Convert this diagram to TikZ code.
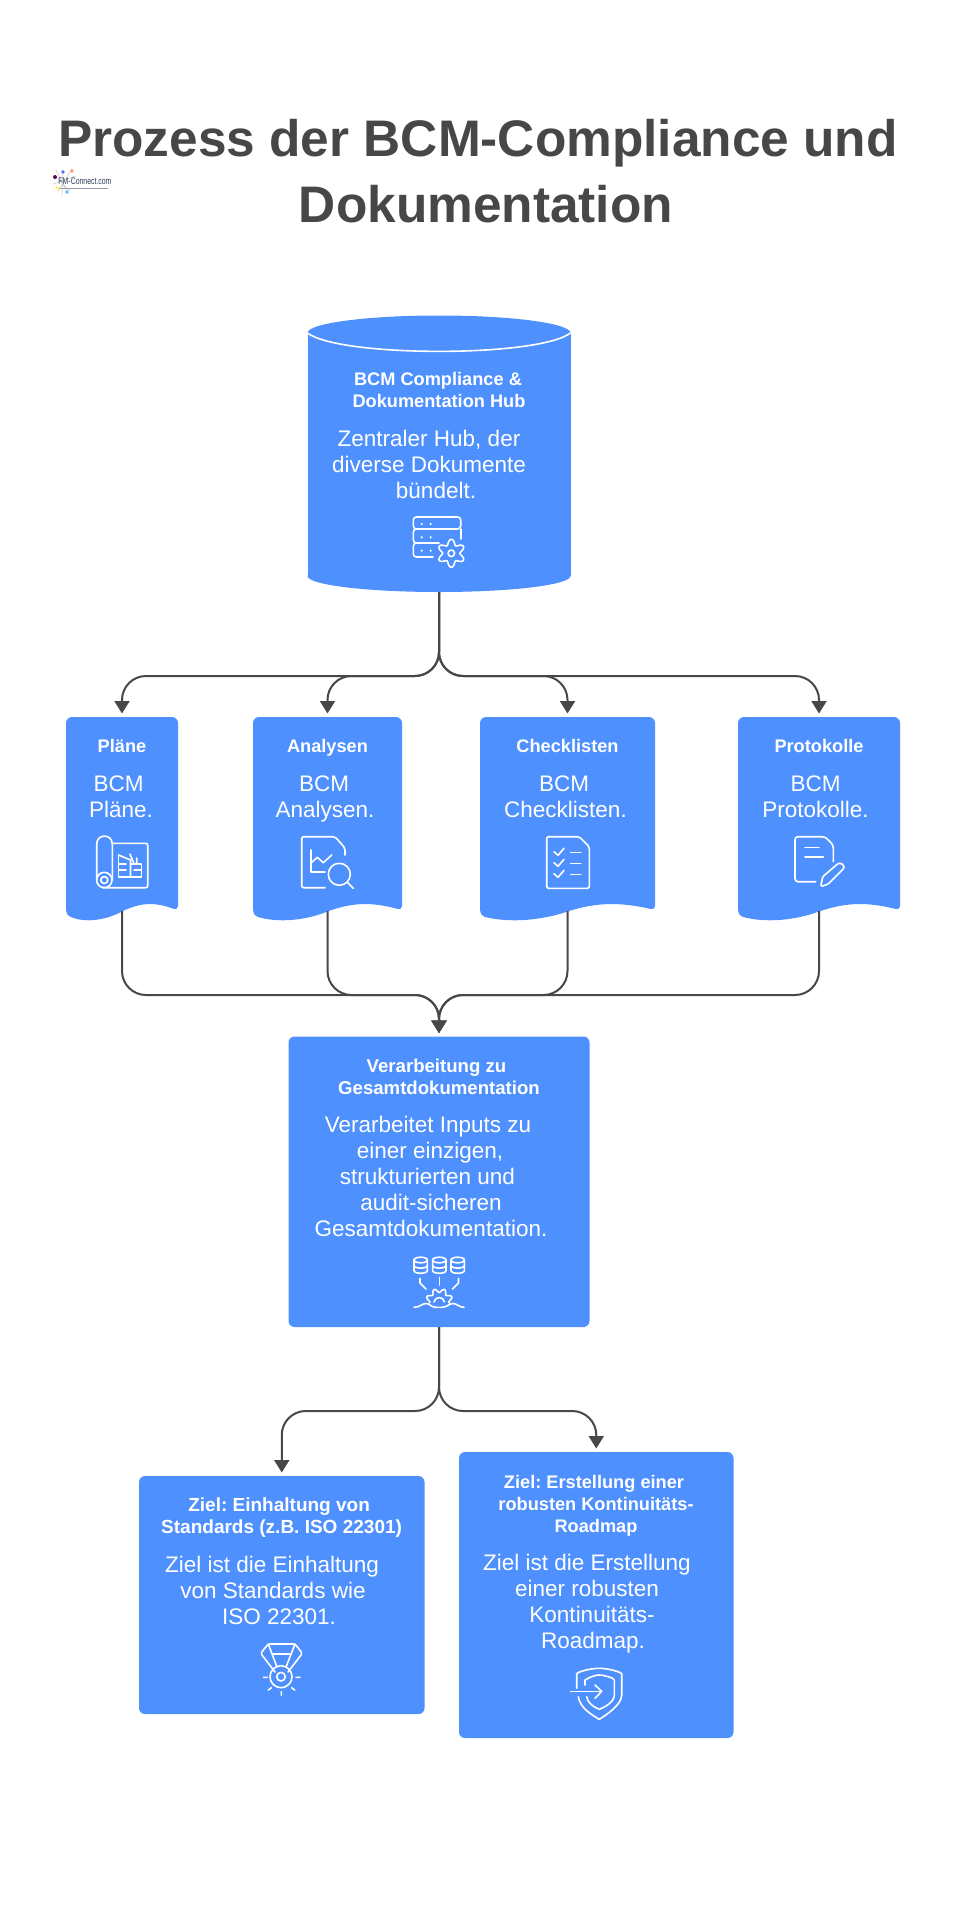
\documentclass[tikz,border=0pt]{standalone}
\usepackage{fontspec}
\setmainfont{Liberation Sans}
\newfontfamily\logofont[FakeStretch=0.72]{Liberation Sans}
\usetikzlibrary{arrows.meta}
\frenchspacing
\definecolor{boxblue}{HTML}{4F90FF}
\definecolor{inkgrey}{HTML}{474747}
\definecolor{logonavy}{HTML}{2E3C5C}
\newcommand{\docshape}[2]{%
  \pgfmathsetmacro{\dw}{#2-#1}%
  \pgfmathsetmacro{\dc}{(#1+#2)/2}%
  \fill[boxblue] ({#1+5},917) .. controls ({#1+1},915) and (#1,913) .. (#1,910)
    [rounded corners=6pt] -- (#1,717) -- (#2,717) [sharp corners] -- (#2,906)
    .. controls (#2,908) and ({#2-2},910) .. ({#2-4},909)
    .. controls ({#2-.2*\dw},902) and ({#2-.33*\dw},902) .. (\dc,911.5)
    .. controls ({\dc-.15*\dw},920.5) and ({\dc-.33*\dw},923) .. ({#1+5},917) -- cycle;}
\tikzset{
  titletxt/.style={font=\fontsize{51.4}{66}\selectfont\bfseries,text=inkgrey,align=center,inner sep=0pt,anchor=north,yshift=46.2pt},
  headtxt/.style={font=\fontsize{18.2}{22}\selectfont\bfseries,text=white,align=center,inner sep=0pt,anchor=north,yshift=15.4pt},
  headwide/.style={headtxt,font=\fontsize{19}{22}\selectfont\bfseries},
  bodytxt/.style={font=\fontsize{22.5}{26}\selectfont,text=white,align=center,inner sep=0pt,anchor=north,yshift=18.2pt},
  holder/.style={draw=none,fill=none,inner sep=0pt,outer sep=0pt,rectangle},
  bluebox/.style={fill=boxblue,draw=none,inner sep=0pt,outer sep=0pt,rectangle,rounded corners=6pt},
  conn/.style={draw=inkgrey,line width=2pt,rounded corners=24pt,-{Triangle[width=15pt,length=12.5pt]},shorten >=3.5pt},
  icon/.style={draw=white,line width=1.6pt,line cap=round,line join=round,fill=none},
}
\begin{document}
\begin{tikzpicture}[x=1pt,y=-1pt]
\useasboundingbox (0,0) rectangle (979,1919);

% logo
\begin{scope}[draw=gray!45,line width=.6pt]
  \foreach \ax/\ay/\bx/\by in {55/176/70/191, 63/170/62/196, 72/169/58/191, 53/184/76/176, 56/170/68/194}
    \draw (\ax,\ay) -- (\bx,\by);
\end{scope}
\fill[violet!80!black] (55,177) circle (2);
\fill[blue!60] (63,172) circle (1.8);
\fill[red!40!orange!60] (72,171) circle (1.8);
\fill[yellow!70] (57,188) circle (1.8);
\fill[cyan!70] (67,192) circle (1.8);
\node[inner sep=0pt,text=logonavy,font=\logofont\fontsize{9.6}{10}\selectfont] (logo) at (85,181.5) {FM-Connect.com};
\draw[logonavy!50,line width=.8pt] (60,188.5) -- (108,188.5);

% title
\node[titletxt] (title) at (478,156.4) {\strut Prozess der BCM-Compliance und\\\hspace*{16pt}Dokumentation};

% hub cylinder
\node[holder,minimum width=263pt,minimum height=276pt] (hub) at (439,454) {};
\fill[boxblue] (307.5,333) rectangle (570.5,576);
\fill[boxblue] (439,576) ellipse (131.5 and 16);
\fill[boxblue] (439,333) ellipse (131.5 and 17.5);
\draw[white,line width=1.6pt] (307.5,333) .. controls (340,357.5) and (538,357.5) .. (570.5,333);
\node[headtxt] (hubh) at (438,385) {\strut BCM Compliance \&\\\hspace*{2pt}Dokumentation Hub};
\node[bodytxt] (hubb) at (429,446) {\strut Zentraler Hub, der\\diverse Dokumente\\\hspace*{14pt}bündelt.};

% server + gear icon
\draw[icon,rounded corners=3pt] (440,529) -- (413.3,529) -- (413.3,517) -- (460.7,517) -- (460.7,529) -- (440,529);
\draw[icon,rounded corners=3pt] (416,529) -- (413.3,529) -- (413.3,543) -- (439,543);
\draw[icon,rounded corners=3pt] (460.7,529) -- (460.7,539);
\draw[icon,rounded corners=3pt] (416,543) -- (413.3,543) -- (413.3,557) -- (433,557);
\foreach \dx in {421.7,430.7} \foreach \dy in {524,537.3,550.7} \fill[white] (\dx,\dy) circle (1.2);
\draw[icon] plot[domain=0:360,samples=90,smooth] ({451.3+(11.3-2.7*cos(6*\x))*cos(\x)},{553.3+(11.3-2.7*cos(6*\x))*sin(\x)});
\draw[icon] (451.3,553.3) circle (3.3);

% document nodes
\node[holder,minimum width=112pt,minimum height=194pt] (plan) at (122,814) {};
\node[holder,minimum width=149pt,minimum height=194pt] (ana) at (327.5,814) {};
\node[holder,minimum width=175pt,minimum height=194pt] (chk) at (567.5,814) {};
\node[holder,minimum width=162pt,minimum height=194pt] (pro) at (819,814) {};
\docshape{66}{178}
\docshape{253}{402}
\docshape{480}{655}
\docshape{738}{900}

\node[headtxt] (planh) at (122,752) {\strut Pläne};
\node[headtxt] (anah) at (327.5,752) {\strut Analysen};
\node[headtxt] (chkh) at (567.5,752) {\strut Checklisten};
\node[headtxt] (proh) at (819,752) {\strut Protokolle};
\node[bodytxt] (planb) at (121,791) {\strut\hspace*{-5pt}BCM\\Pläne.};
\node[bodytxt] (anab) at (325,791) {\strut\hspace*{-2pt}BCM\\Analysen.};
\node[bodytxt] (chkb) at (565.5,791) {\strut\hspace*{-3pt}BCM\\Checklisten.};
\node[bodytxt] (prob) at (815.5,791) {\strut BCM\\Protokolle.};

% plan icon
\draw[icon] (96.7,880) -- (96.7,844) .. controls (96.7,833.5) and (112.3,833.5) .. (112.3,844) -- (112.3,880);
\draw[icon] (104.3,880) circle (7.7);
\draw[icon] (104.3,880) circle (3.5);
\draw[icon,rounded corners=2pt] (112.3,843.3) -- (147.7,843.3) -- (147.7,887.7) -- (103,887.7);
\draw[icon] (118.5,855) -- (118.5,876.8) -- (141.5,876.8) -- (141.5,864) -- (130.5,864);
\draw[icon] (118.5,855) -- (130.5,860) -- (130.5,876.8);
\draw[icon] (118.5,864) -- (126,864) (118.5,870) -- (126,870) (134,870) -- (141.5,870);
\draw[icon] (130,854) -- (134,864) (136.7,858) -- (136.7,864);

% analysis icon
\draw[icon,rounded corners=2pt] (325,887.7) -- (301.7,887.7) -- (301.7,836.7) -- (335,836.7) -- (345,848) -- (345,855);
\draw[icon] (310.7,850) -- (310.7,871.7) -- (325,871.7);
\draw[icon] (310.7,863.3) -- (317.3,857.3) -- (323.3,862.7) -- (331.7,855);
\draw[icon] (339.3,874.3) circle (11);
\draw[icon] (347.3,882.3) -- (353.3,888.3);

% checklist icon
\draw[icon,rounded corners=2pt] (546.7,836.7) -- (579.3,836.7) -- (589.3,846.7) -- (589.3,888.3) -- (546.7,888.3) -- cycle;
\foreach \dy in {0,11,22}{
  \draw[icon] (554,851.7+\dy) -- (558,855.3+\dy) -- (564,848.3+\dy);
  \draw[icon] (570.7,852.3+\dy) -- (580.7,852.3+\dy);
}

% notes icon
\draw[icon,rounded corners=3pt] (815.7,881.7) -- (795,881.7) -- (795,836.7) -- (825,836.7) -- (833.3,845) -- (833.3,861.7);
\draw[icon] (805,847.3) -- (819,847.3) (805,856.7) -- (823.3,856.7);
\draw[icon,rounded corners=1.5pt] (820.7,886.7) -- (822.7,876.7) -- (838.3,863.3) -- (841,863) -- (844,866) -- (844,868.3) -- (828.3,884) -- cycle;

% processing box
\node[bluebox,minimum width=301pt,minimum height=290.5pt] (verar) at (439,1181.75) {};
\node[headtxt,font=\fontsize{18.6}{22}\selectfont\bfseries] (verarh) at (439,1072) {\strut\hspace*{-5pt}Verarbeitung zu\\Gesamtdokumentation};
\node[bodytxt] (verarb) at (430,1132.3) {\strut\hspace*{-4pt}Verarbeitet Inputs zu\\einer einzigen,\\\hspace*{-5pt}strukturierten und\\\hspace*{2pt}audit-sicheren\\\hspace*{2pt}Gesamtdokumentation.};

% database icon
\foreach \cx in {420.7,439.3,457.7}{
  \draw[icon] (\cx,1260) ellipse (6.7 and 2.8);
  \draw[icon] (\cx-6.7,1260) -- (\cx-6.7,1270.5) .. controls (\cx-6.7,1274.2) and (\cx+6.7,1274.2) .. (\cx+6.7,1270.5) -- (\cx+6.7,1260);
  \draw[icon] (\cx-6.7,1265.3) .. controls (\cx-6.7,1269) and (\cx+6.7,1269) .. (\cx+6.7,1265.3);
}
\draw[icon] (420,1278.3) -- (420,1283) -- (426,1289);
\draw[icon] (439.3,1277.3) -- (439.3,1285);
\draw[icon] (458.5,1278.3) -- (458.5,1283) -- (452.5,1289);
\draw[icon] plot[domain=-185:5,samples=60,smooth] ({439.3+(11.5-2*cos(8*\x))*cos(\x)},{1302+(11.5-2*cos(8*\x))*sin(\x)});
\draw[icon] (434,1302) .. controls (435,1296) and (443.5,1296) .. (444.5,1302);
\draw[icon] (414,1307.3) .. controls (420,1307.3) and (422,1303.5) .. (426,1303.5) .. controls (430,1303.5) and (431,1307.3) .. (436,1307.3) -- (442,1307.3) .. controls (447,1307.3) and (449,1303.5) .. (453,1303.5) .. controls (457,1303.5) and (459,1307.3) .. (464,1307.3);

% goal boxes
\node[bluebox,minimum width=285.5pt,minimum height=238pt] (goala) at (281.75,1595) {};
\node[bluebox,minimum width=274.5pt,minimum height=286pt] (goalb) at (596.25,1595) {};
\node[headwide] (goalah) at (281.6,1511.7) {\strut\hspace*{-5pt}Ziel: Einhaltung von\\Standards (z.B. ISO 22301)};
\node[headtxt] (goalbh) at (596,1488) {\strut\hspace*{-4pt}Ziel: Erstellung einer\\robusten Kontinuitäts-\\Roadmap};
\node[bodytxt] (goalab) at (273,1572) {\strut\hspace*{-2pt}Ziel ist die Einhaltung\\von Standards wie\\\hspace*{12pt}ISO 22301.};
\node[bodytxt] (goalbb) at (587,1570) {\strut Ziel ist die Erstellung\\einer robusten\\\hspace*{10pt}Kontinuitäts-\\\hspace*{12pt}Roadmap.};

% medal icon
\draw[icon,rounded corners=1.5pt] (275,1672) -- (260.7,1653.3) -- (268.3,1644) -- (295,1644) -- (302.3,1653.3) -- (288,1672);
\draw[icon] (268.3,1644) -- (277,1667) (295,1644) -- (286,1667) (273.5,1654) -- (289.5,1654);
\draw[icon] (281,1676.7) circle (11);
\draw[icon] (281,1676.7) circle (4.3);
\draw[icon] (263.5,1677.3) -- (267.3,1677.3) (296,1677.3) -- (300,1677.3) (268.3,1690) -- (271.3,1687.7) (294.7,1690) -- (291.7,1687.7) (281.3,1691.7) -- (281.3,1695.3);

% shield icon
\draw[icon] (576.7,1688.3) -- (576.7,1674) .. controls (576.7,1672) and (590,1668.3) .. (599.3,1668.3) .. controls (608,1668.3) and (621.7,1672) .. (621.7,1674) -- (621.7,1695) .. controls (621.7,1705) and (606,1715) .. (599.3,1719.3) .. controls (592,1715) and (580,1708) .. (578.3,1696.7);
\draw[icon] (585,1685) -- (585,1680) .. controls (590,1677) and (595,1675) .. (599.3,1675) .. controls (604,1675) and (614.3,1678) .. (614.3,1680) -- (614.3,1695) .. controls (614.3,1702) and (605,1707) .. (599.3,1709.3) .. controls (593,1707) and (587,1702) .. (586.7,1696.7);
\draw[icon] (570.7,1691.3) -- (601.7,1691.3);
\draw[icon] (595,1685) -- (601.7,1691.3) -- (595,1698.3);

% connectors
\coordinate (busTop) at (0,676);
\coordinate (busMid) at (0,995);
\coordinate (busLow) at (0,1411);
\draw[conn] (hub.south) -- (hub.south |- busTop) -- (plan.north |- busTop) -- (plan.north);
\draw[conn] (hub.south) -- (hub.south |- busTop) -- (ana.north |- busTop) -- (ana.north);
\draw[conn] (hub.south) -- (hub.south |- busTop) -- (chk.north |- busTop) -- (chk.north);
\draw[conn] (hub.south) -- (hub.south |- busTop) -- (pro.north |- busTop) -- (pro.north);
\draw[conn] (plan.south) -- (plan.south |- busMid) -- (verar.north |- busMid) -- (verar.north);
\draw[conn] (ana.south) -- (ana.south |- busMid) -- (verar.north |- busMid) -- (verar.north);
\draw[conn] (chk.south) -- (chk.south |- busMid) -- (verar.north |- busMid) -- (verar.north);
\draw[conn] (pro.south) -- (pro.south |- busMid) -- (verar.north |- busMid) -- (verar.north);
\draw[conn] (verar.south) -- (verar.south |- busLow) -- (goala.north |- busLow) -- (goala.north);
\draw[conn] (verar.south) -- (verar.south |- busLow) -- (goalb.north |- busLow) -- (goalb.north);
\end{tikzpicture}
\end{document}
